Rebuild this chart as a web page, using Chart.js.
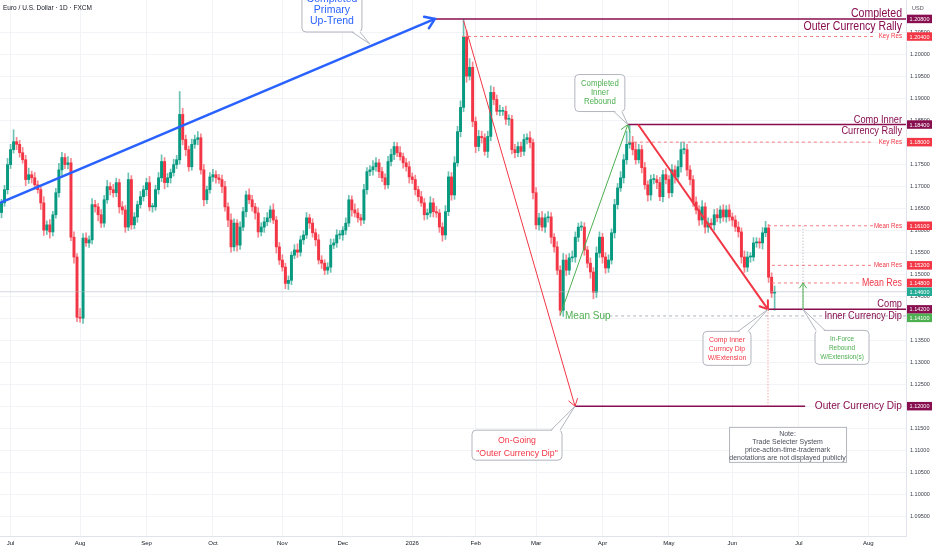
<!DOCTYPE html>
<html>
<head>
<meta charset="utf-8">
<title>EUR/USD 1D</title>
<script src="https://cdn.jsdelivr.net/npm/chart.js@4.4.1/dist/chart.umd.min.js"></script>
<style>
  html, body { margin: 0; padding: 0; background: #fff; }
  #wrap { width: 932px; height: 550px; }
</style>
</head>
<body>
<div id="wrap"><canvas id="chart" width="932" height="550"></canvas></div>
<script>
// daily closes, Jun 26 2025 -> mid Jun 2026
const firstOpen = 1.1640;
const closes = [
  1.1662,1.1692,1.1749,1.1783,1.1801,1.1795,1.1776,1.1760,1.1715,1.1726,
  1.1719,1.1703,1.1692,1.1662,1.1600,1.1612,1.1596,1.1635,1.1685,1.1737,
  1.1765,1.1749,1.1753,1.1584,1.1539,1.1402,1.1400,1.1582,1.1571,1.1578,
  1.1658,1.1653,1.1635,1.1616,1.1669,1.1699,1.1692,1.1685,1.1708,1.1653,
  1.1646,1.1607,1.1715,1.1612,
  1.1630,1.1658,1.1676,1.1692,1.1708,1.1653,1.1653,1.1692,1.1719,1.1756,
  1.1708,1.1719,1.1731,1.1749,1.1760,1.1863,1.1806,1.1783,1.1744,1.1795,
  1.1806,1.1810,1.1737,1.1669,1.1692,1.1721,1.1726,1.1719,1.1715,1.1699,
  1.1653,1.1623,1.1562,1.1616,1.1566,1.1607,1.1642,1.1680,1.1669,1.1653,
  1.1639,1.1596,1.1607,
  1.1619,1.1628,1.1646,1.1623,1.1562,1.1532,1.1516,1.1479,1.1486,1.1543,
  1.1555,1.1550,1.1578,1.1589,1.1628,1.1616,1.1594,1.1578,1.1532,1.1525,
  1.1509,1.1516,1.1566,1.1571,1.1589,1.1589,1.1600,1.1616,1.1669,1.1646,
  1.1639,1.1628,1.1623,1.1692,1.1733,1.1737,1.1744,1.1753,1.1733,1.1719,
  1.1703,1.1756,
  1.1772,1.1790,1.1776,1.1767,1.1753,1.1744,1.1721,1.1715,1.1692,1.1676,
  1.1662,1.1635,1.1639,1.1662,1.1642,1.1639,1.1607,1.1589,1.1642,1.1721,
  1.1680,1.1753,1.1824,1.1879,1.2039,1.1950,1.1970,1.1847,1.1790,1.1813,
  1.1810,1.1779,1.1813,1.1913,1.1897,1.1870,1.1870,1.1870,1.1852,1.1852,
  1.1783,1.1776,1.1790,
  1.1779,1.1806,1.1810,1.1799,1.1685,1.1612,1.1628,1.1607,1.1628,1.1630,
  1.1584,1.1562,1.1509,1.1418,1.1532,1.1509,1.1537,1.1539,1.1584,1.1607,
  1.1607,1.1555,1.1525,1.1505,1.1459,1.1548,1.1584,1.1539,1.1514,1.1532,
  1.1594,1.1658,1.1696,1.1719,1.1760,1.1795,1.1799,1.1783,1.1760,1.1783,
  1.1742,1.1703,1.1680,
  1.1715,1.1715,1.1708,1.1676,1.1726,1.1715,1.1685,1.1737,1.1721,1.1744,
  1.1783,1.1783,1.1737,1.1715,1.1664,1.1646,1.1623,1.1653,1.1607,1.1616,
  1.1612,1.1635,1.1628,1.1646,1.1630,1.1646,1.1630,1.1623,1.1607,1.1596,
  1.1539,1.1516,1.1539,1.1539,1.1571,1.1573,1.1571,1.1594,1.1605,1.1493,
  1.1457,1.1459
];

// wick lengths above / below the body, in pips
const upWicks = [
  8,10,14,12,27,10,9,12,10,15, 8,12,9,10,14,9,12,8,10,15, 12,9,14,10,12,8,20,10,12,9,
  14,10,8,12,10,14,9,12,10,8, 12,10,15,9,
  10,8,12,9,10,14,8,10,12,15, 9,10,8,12,10,52,14,10,8,12, 10,14,9,12,8,10,12,9,8,10,
  12,9,14,10,8,12,10,9,14,10, 8,12,10,
  10,12,9,14,8,10,12,9,10,8, 12,14,9,10,12,8,10,9,12,10, 8,10,14,9,12,10,8,12,10,9,
  14,10,8,12,9,10,14,12,8,10, 9,12,
  12,10,9,14,8,10,12,9,10,8, 12,10,9,14,10,12,8,10,14,12, 10,14,12,15,41,15,20,12,10,14,
  12,9,12,15,12,10,14,9,12,10, 9,12,10,
  10,12,9,14,8,12,10,14,9,12, 10,8,12,10,15,12,10,14,12,9, 12,10,8,12,10,14,12,9,10,12,
  9,12,10,14,12,30,40,14,16,12, 10,12,9,
  10,12,9,12,10,14,9,12,10,14, 17,17,12,10,9,12,10,14,9,12, 10,12,14,9,12,10,12,9,10,12,
  9,14,12,10,12,10,9,12,15,8, 10,14
];
const lowWicks = [
  12,8,10,9,8,12,10,8,14,9, 12,10,8,15,12,10,14,9,8,10, 12,9,10,8,14,10,9,12,8,10,
  9,12,14,10,9,8,12,10,9,14, 10,12,8,10,
  9,12,8,10,14,9,12,8,10,9, 14,10,12,8,9,10,12,14,10,8, 9,12,10,14,9,8,10,12,9,14,
  10,15,12,9,14,10,8,12,9,10, 14,12,9,
  12,9,10,8,14,10,9,12,14,10, 8,12,9,10,8,12,10,14,9,12, 10,9,12,8,10,9,12,10,8,14,
  9,10,12,8,10,9,12,10,14,9, 10,8,
  10,12,9,8,12,10,14,9,12,10, 8,12,10,9,12,10,12,14,10,9, 12,10,8,12,10,14,9,12,14,10,
  12,9,14,10,12,8,10,9,12,14, 10,12,9,
  12,9,10,12,14,10,12,9,12,10, 14,12,10,12,14,12,10,9,12,10, 8,12,10,14,15,12,10,14,12,10,
  9,12,10,8,12,10,9,12,10,8, 12,10,14,
  12,10,14,9,12,10,12,9,14,10, 12,10,14,12,10,9,12,10,14,12, 10,12,9,12,10,12,9,14,10,12,
  14,12,10,12,9,10,12,14,9,12, 10,39
];

// axis tick labels
const monthNames = ['Jul','Aug','Sep','Oct','Nov','Dec','2026','Feb','Mar','Apr','May','Jun','Jul','Aug'];
const monthStartBars = [3, 26, 48, 70, 93, 113, 136, 157, 177, 199, 221, 242, 264, 287];
const priceTicks = [1.095,1.100,1.105,1.110,1.115,1.120,1.125,1.130,1.135,1.140,1.145,
                    1.150,1.155,1.160,1.165,1.170,1.175,1.180,1.185,1.190,1.195,1.200,1.205];
const futureSlots = 43;

// price markers on the right axis
const markerPrices = [1.2080, 1.2040, 1.1840, 1.1800, 1.1610, 1.1520, 1.1480, 1.1460, 1.1420, 1.1410, 1.1200];
const markerKinds  = ['level','res','level','res','res','res','res','last','level','sup','level'];

const UP = '#089981', DOWN = '#f23645';
const PURPLE = '#880e4f', RED = '#f23645', LRED = '#f77c80', GREEN = '#4caf50', BLUE = '#2962ff';
const TXT = "'Liberation Sans', Arial, sans-serif";

const opens = closes.map((c, i) => i === 0 ? firstOpen : closes[i - 1]);
const highs = closes.map((c, i) => Math.max(opens[i], c) + upWicks[i] / 10000);
const lows  = closes.map((c, i) => Math.min(opens[i], c) - lowWicks[i] / 10000);
const rising = closes.map((c, i) => c >= opens[i]);

const totalSlots = closes.length + futureSlots;
const slotLabels = [];
for (let i = 0; i < totalSlots; i++) {
  const k = monthStartBars.indexOf(i);
  slotLabels.push(k >= 0 ? monthNames[k] : '');
}

// drawings, anchored on [bar index, price]
const trendLines = [
  { from: [-0.5, 1.1662], to: [143.5, 1.2080], color: BLUE,  width: 2.5, head: 11 },
  { from: [153, 1.2076],  to: [189.9, 1.1200], color: RED,   width: 1,   head: 8 },
  { from: [185, 1.1407],  to: [207.4, 1.1840], color: GREEN, width: 1,   head: 8 },
  { from: [210.8, 1.1840],to: [253.8, 1.1420], color: RED,   width: 2,   head: 9 },
  { from: [265.4, 1.1420],to: [265.4, 1.1480], color: GREEN, width: 1,   head: 6 }
];
const levelLines = [
  { price: 1.2080, from: 143.5, to: null, color: PURPLE, width: 1.5, above: 'Completed', below: 'Outer Currency Rally', size: 12 },
  { price: 1.1840, from: 207.4, to: null, color: PURPLE, width: 1.5, above: 'Comp Inner', below: 'Currency Rally', size: 10.5 },
  { price: 1.1420, from: 253.8, to: null, color: PURPLE, width: 1.5, above: 'Comp', below: 'Inner Currency Dip', size: 10.5 },
  { price: 1.1200, from: 189.9, to: 266.1, color: PURPLE, width: 1.5, after: 'Outer Currency Dip', size: 11.5 }
];
const dashedLines = [
  { price: 1.2040, from: 152.5, to: 288.6, label: 'Key Res', size: 7 },
  { price: 1.1800, from: 207.4, to: 288.6, label: 'Key Res', size: 7 },
  { price: 1.1610, from: 253.8, to: 288.6, label: 'Mean Res', size: 7 },
  { price: 1.1520, from: 255.1, to: 288.6, label: 'Mean Res', size: 7 },
  { price: 1.1480, from: 255.1, to: 285.0, label: 'Mean Res', size: 10 }
];
const callouts = [
  { tip: [122, 1.2023], box: [-68, -56, -8, -12], edge: 'bottom', base: [-18, -10], color: BLUE, size: 10.5, sq: 1,
    tx: -38, lines: [['Completed', -45], ['Primary', -34], ['Up-Trend', -23]] },
  { tip: [207.4, 1.1840], box: [-53, -50, -3, -13], edge: 'bottom', base: [-14, -6], color: GREEN, size: 8.5, sq: 0.92,
    tx: -28, lines: [['Completed', -41], ['Inner', -32], ['Rebound', -23]] },
  { tip: [189.9, 1.1200], box: [-103, 24, -13, 54], edge: 'top', base: [-24, -15], color: RED, size: 9.5, sq: 0.92,
    tx: -58, lines: [['On-Going', 34], ['"Outer Currency Dip"', 47]] },
  { tip: [253.8, 1.1420], box: [-65, 22, -17, 56], edge: 'top', base: [-30, -20], color: RED, size: 8, sq: 0.86,
    tx: -41, lines: [['Comp Inner', 30], ['Currncy Dip', 39], ['W/Extension', 48]] },
  { tip: [265.4, 1.1420], box: [12, 21, 66, 55], edge: 'top', base: [13, 22], color: GREEN, size: 7.5, sq: 0.86,
    tx: 39, lines: [['In-Force', 29.5], ['Rebound', 38.5], ['W/Extension(s)', 47.5]] }
];
const noteLines = ['Note:', 'Trade Selecter System', 'price-action-time-trademark', 'denotations are not displayed publicly'];

function seg(ctx, x1, y1, x2, y2, color, width, dash) {
  ctx.save();
  ctx.strokeStyle = color; ctx.lineWidth = width; ctx.setLineDash(dash || []);
  ctx.beginPath(); ctx.moveTo(x1, y1); ctx.lineTo(x2, y2); ctx.stroke();
  ctx.restore();
}
function head(ctx, x1, y1, x2, y2, color, width, len) {
  const a = Math.atan2(y2 - y1, x2 - x1);
  ctx.save();
  ctx.strokeStyle = color; ctx.lineWidth = width; ctx.lineCap = 'round';
  ctx.beginPath();
  ctx.moveTo(x2 - len * Math.cos(a - 0.6), y2 - len * Math.sin(a - 0.6));
  ctx.lineTo(x2, y2);
  ctx.lineTo(x2 - len * Math.cos(a + 0.6), y2 - len * Math.sin(a + 0.6));
  ctx.stroke();
  ctx.restore();
}
// sq < 1 squeezes the glyphs horizontally (TradingView's label font is narrow)
function text(ctx, s, x, y, color, size, align, base, sq) {
  ctx.save();
  ctx.fillStyle = color;
  ctx.font = size + 'px ' + TXT;
  ctx.textAlign = align || 'left';
  ctx.textBaseline = base || 'middle';
  ctx.translate(x, y);
  ctx.scale(sq || 1, 1);
  ctx.fillText(s, 0, 0);
  ctx.restore();
}
function roundBox(ctx, l, t, r, b, rad) {
  ctx.beginPath();
  ctx.moveTo(l + rad, t); ctx.lineTo(r - rad, t); ctx.quadraticCurveTo(r, t, r, t + rad);
  ctx.lineTo(r, b - rad); ctx.quadraticCurveTo(r, b, r - rad, b);
  ctx.lineTo(l + rad, b); ctx.quadraticCurveTo(l, b, l, b - rad);
  ctx.lineTo(l, t + rad); ctx.quadraticCurveTo(l, t, l + rad, t);
  ctx.closePath();
}

const drawings = {
  id: 'drawings',
  afterDatasetsDraw(chart) {
    const { ctx, chartArea: area, scales: { x, y } } = chart;
    const X = i => (i === null ? area.right : x.getPixelForValue(i));
    const Y = p => y.getPixelForValue(p);
    const SQ = 0.88;
    ctx.save();
    ctx.beginPath(); ctx.rect(0, 0, area.right, area.bottom); ctx.clip();

    // last price line
    seg(ctx, area.left, Y(1.1460), area.right, Y(1.1460), 'rgba(178,181,190,0.55)', 1);

    // mean support
    seg(ctx, X(199.2), Y(1.1405), area.right, Y(1.1405), '#b2b5be', 1, [3, 3]);
    text(ctx, 'Mean Sup', X(186.6), Y(1.1405), GREEN, 10.5, 'left', 'middle', 0.95);

    dashedLines.forEach(d => {
      seg(ctx, X(d.from), Y(d.price), X(d.to), Y(d.price), LRED, 1, [3, 3]);
      text(ctx, d.label, area.right - 4, Y(d.price), RED, d.size, 'right', 'middle', SQ);
    });

    // vertical guides
    seg(ctx, X(253.8), Y(1.1420), X(253.8), Y(1.1200), LRED, 1, [1, 2]);
    seg(ctx, X(265.4), Y(1.1610), X(265.4), Y(1.1420), 'rgba(120,123,134,0.6)', 1, [1, 2]);

    levelLines.forEach(l => {
      const yy = Y(l.price);
      seg(ctx, X(l.from), yy, X(l.to), yy, l.color, l.width);
      if (l.above) text(ctx, l.above, area.right - 4, yy - 2, l.color, l.size, 'right', 'alphabetic', SQ);
      if (l.below) text(ctx, l.below, area.right - 4, yy + l.size - 1, l.color, l.size, 'right', 'alphabetic', SQ);
      if (l.after) text(ctx, l.after, area.right - 4, yy, l.color, l.size, 'right', 'middle', SQ);
    });

    trendLines.forEach(t => {
      const x1 = X(t.from[0]), y1 = Y(t.from[1]), x2 = X(t.to[0]), y2 = Y(t.to[1]);
      seg(ctx, x1, y1, x2, y2, t.color, t.width);
      head(ctx, x1, y1, x2, y2, t.color, t.width, t.head);
    });

    callouts.forEach(c => {
      const tx = X(c.tip[0]), ty = Y(c.tip[1]);
      const l = tx + c.box[0], t = ty + c.box[1], r = tx + c.box[2], b = ty + c.box[3];
      const ey = c.edge === 'top' ? t : b, inward = c.edge === 'top' ? 1.5 : -1.5;
      ctx.fillStyle = '#fff'; ctx.strokeStyle = '#b2b5be'; ctx.lineWidth = 1;
      roundBox(ctx, l, t, r, b, 4); ctx.fill(); ctx.stroke();
      ctx.beginPath(); ctx.moveTo(tx + c.base[0], ey + inward); ctx.lineTo(tx, ty);
      ctx.lineTo(tx + c.base[1], ey + inward); ctx.closePath(); ctx.fill();
      ctx.beginPath(); ctx.moveTo(tx + c.base[0], ey); ctx.lineTo(tx, ty); ctx.lineTo(tx + c.base[1], ey); ctx.stroke();
      c.lines.forEach(([s, dy]) => text(ctx, s, tx + c.tx, ty + dy, c.color, c.size, 'center', 'middle', c.sq));
    });

    // note box
    const nl = X(240.9), nt = Y(1.1153);
    ctx.fillStyle = '#fff'; ctx.strokeStyle = '#b2b5be'; ctx.lineWidth = 1;
    ctx.fillRect(nl, nt, 117, 35); ctx.strokeRect(nl + 0.5, nt + 0.5, 117, 35);
    noteLines.forEach((s, k) => text(ctx, s, nl + 58.5, nt + 7 + k * 8, '#4a4e5a', 7.5, 'center', 'middle', 0.93));

    ctx.restore();
  },
  afterDraw(chart) {
    const { ctx, chartArea: area, scales: { y } } = chart;
    // axis price markers
    let prev = -100;
    markerPrices.forEach((p, k) => {
      let cy = y.getPixelForValue(p);
      if (cy - prev < 8.5) cy = prev + 8.5;
      prev = cy;
      const kind = markerKinds[k];
      ctx.fillStyle = kind === 'level' ? PURPLE : kind === 'last' ? '#22ab94' : kind === 'sup' ? GREEN : RED;
      ctx.fillRect(area.right + 1, cy - 4.25, 25, 8.5);
      text(ctx, p.toFixed(5), area.right + 13.5, cy + 0.5, '#fff', 5.5, 'center');
    });
    text(ctx, 'USD', area.right + 6, 8, '#50535e', 5.5, 'left');
    text(ctx, 'Euro / U.S. Dollar \u00b7 1D \u00b7 FXCM', 3, 8, '#131722', 6.5, 'left');
  }
};

Chart.defaults.font.family = "'Liberation Sans', Arial, sans-serif";

new Chart(document.getElementById('chart'), {
  type: 'bar',
  data: {
    labels: slotLabels,
    datasets: [
      {
        label: 'wick',
        data: lows.map((l, i) => [l, highs[i]]),
        backgroundColor: rising.map(r => r ? 'rgba(8,153,129,0.6)' : 'rgba(242,54,69,0.6)'),
        barThickness: 1,
        grouped: false,
        order: 2
      },
      {
        label: 'body',
        data: opens.map((o, i) => [o, closes[i]]),
        backgroundColor: rising.map(r => r ? UP : DOWN),
        barThickness: 2.3,
        minBarLength: 1,
        grouped: false,
        order: 1
      }
    ]
  },
  options: {
    responsive: false,
    animation: false,
    layout: { padding: 0 },
    plugins: { legend: { display: false }, tooltip: { enabled: false } },
    scales: {
      x: {
        offset: true,
        grid: {
          offset: false,
          drawTicks: false,
          color: c => (c.tick && c.tick.label) ? '#f2f3f6' : 'rgba(0,0,0,0)'
        },
        border: { color: '#e0e3eb' },
        ticks: { autoSkip: false, maxRotation: 0, minRotation: 0, padding: 4, color: '#131722', font: { size: 6 } },
        afterFit: s => { s.height = 14; s.paddingLeft = 0; s.paddingRight = 0; }
      },
      y: {
        position: 'right',
        min: 1.0905,
        max: 1.2123,
        afterBuildTicks: s => { s.ticks = priceTicks.map(v => ({ value: v })); },
        grid: { drawTicks: false, color: '#f2f3f6' },
        border: { color: '#e0e3eb' },
        ticks: { padding: 4, color: '#3a3e4a', font: { size: 5.5 }, callback: v => v.toFixed(5) },
        afterFit: s => { s.width = 26; s.paddingTop = 0; s.paddingBottom = 0; }
      }
    }
  },
  plugins: [drawings]
});
</script>
</body>
</html>
